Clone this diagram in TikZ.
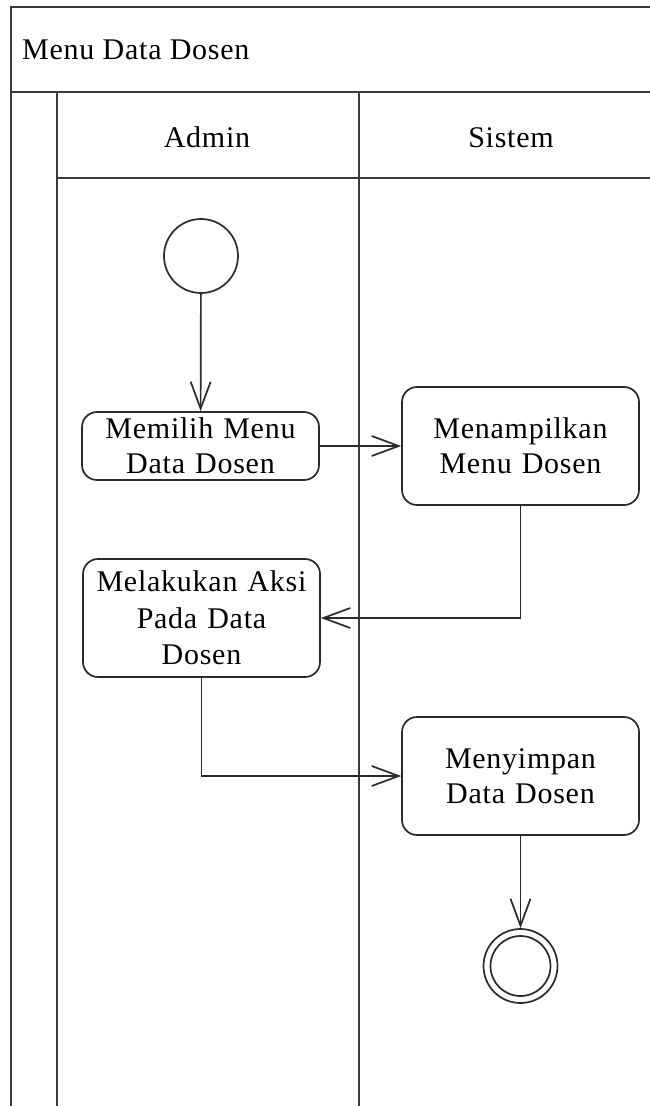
\documentclass[tikz,border=0pt]{standalone}
\usepackage{fontspec}
\setmainfont{Liberation Serif}[LetterSpace=2.5]
\usetikzlibrary{arrows.meta}
\definecolor{frameink}{HTML}{3A3A3A}
\definecolor{lineink}{HTML}{2A2A2A}
\begin{document}
\begin{tikzpicture}[x=1pt,y=-1pt,
  lane/.style={draw=frameink, line width=2.4pt},
  label/.style={font=\fontsize{30}{36}\selectfont, inner sep=0pt},
  activity/.style={draw=lineink, line width=1.7pt, rounded corners=15pt,
    minimum width=237pt, text width=230pt, align=center, inner sep=0pt,
    font=\fontsize{30}{35}\selectfont},
  initial/.style={circle, draw=lineink, line width=1.7pt, minimum size=74pt, inner sep=0pt},
  flow/.style={draw=lineink, line width=1.7pt,
    -{Straight Barb[length=27pt,width=20pt,line width=1.7pt]}}]
  \useasboundingbox (0,0) rectangle (650,1106);
  \clip (0,0) rectangle (650,1106);

  % swimlane frame
  \draw[lane] (670,7) -- (11,7) -- (11,1120);
  \draw[lane] (11,92) -- (670,92);
  \draw[lane] (57,92) -- (57,1120);
  \draw[lane] (57,178) -- (670,178);
  \draw[lane] (359,92) -- (359,1120);

  % titles
  \node[label, anchor=base west] (title) at (22,59) {Menu Data Dosen};
  \node[label, anchor=base] (admin) at (207,147) {Admin};
  \node[label, anchor=base] (sistem) at (511,147) {Sistem};

  % activities
  \node[initial] (start) at (201,256) {};
  \node[activity, minimum height=68pt] (pilih) at (200.5,446) {Memilih Menu\\Data Dosen};
  \node[activity, minimum height=118pt] (tampil) at (520.5,446) {Menampilkan\\Menu Dosen};
  \node[activity, minimum height=118pt, font=\fontsize{30}{36.5}\selectfont] (aksi) at (201.5,618) {Melakukan Aksi\\Pada Data\\Dosen};
  \node[activity, minimum height=118pt] (simpan) at (520.5,776) {Menyimpan\\Data Dosen};
  \node[initial] (final) at (520.5,966) {};
  \node[circle, draw=lineink, line width=1.7pt, minimum size=60pt, inner sep=0pt] (finalcore) at (final) {};

  % control flow
  \draw[flow] (start) -- (pilih);
  \draw[flow] (pilih) -- (tampil);
  \draw[flow] (tampil.south) |- (aksi.east);
  \draw[flow] (aksi.south) |- (simpan.west);
  \draw[flow] (simpan) -- (final);
\end{tikzpicture}
\end{document}
